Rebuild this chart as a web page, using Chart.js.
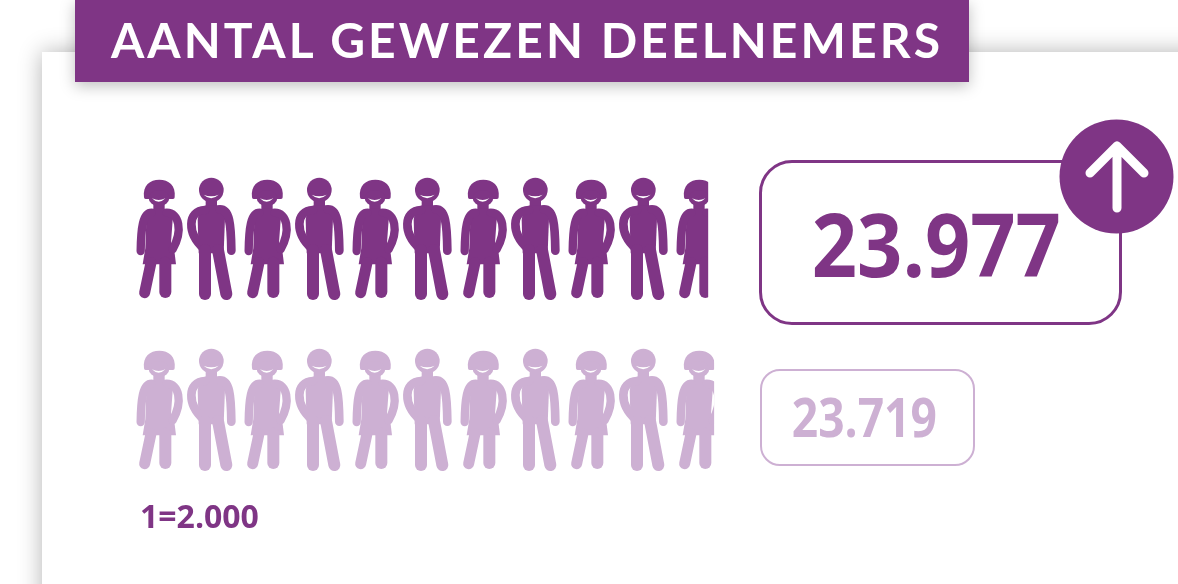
<!DOCTYPE html>
<html lang="nl"><head><meta charset="utf-8">
<script src="https://cdn.jsdelivr.net/npm/chart.js@4"></script>
<style>
html,body{margin:0;padding:0;width:1178px;height:584px;overflow:hidden;background:#fff}
#card{position:absolute;left:42px;top:52px;width:1300px;height:700px;background:#fff;box-shadow:0 0 22px rgba(0,0,0,.3)}
#title{position:absolute;left:75px;top:0;width:884px;padding-left:10px;height:82px;background:#7f3585;box-shadow:0 4px 14px rgba(0,0,0,.25);color:#fff;font:700 48px Lato,sans-serif;line-height:80px;text-align:center;white-space:nowrap;letter-spacing:3.1px}
canvas{position:absolute;left:0;top:0}
.box{position:absolute;box-sizing:border-box;background:#fff;text-align:center;font-family:"Open Sans",sans-serif;font-weight:700;white-space:nowrap}
.box span{display:inline-block;position:relative}
#b1{left:759px;top:160px;width:363px;height:165px;border:3.5px solid #7f3585;border-radius:33px;color:#7f3585;font-size:88px;line-height:160px}
#b1 span{transform:scaleX(.9);left:-4px}
#b2{left:760px;top:369px;width:215px;height:97px;border:2.5px solid #cdb0d3;border-radius:20px;color:#cdb0d3;font-size:53px;line-height:92px}
#b2 span{transform:scaleX(.87);left:-3px}
#note{position:absolute;left:140px;top:494px;color:#7f3585;font:700 32px "Open Sans",sans-serif;white-space:nowrap}
#arrow{position:absolute;left:1059px;top:119px}
</style></head><body>
<div id="card"></div>
<canvas id="c" width="1178" height="584"></canvas>
<div id="title"></div>
<div class="box" id="b1"><span></span></div><div class="box" id="b2"><span></span></div>
<div id="note"></div>
<svg id="arrow" width="115" height="115" viewBox="0 0 115 115"><circle cx="57.5" cy="57.5" r="57" fill="#7f3585"/><path d="M58 89V27M31 54L58 27L85 54" fill="none" stroke="#fff" stroke-width="9" stroke-linecap="round" stroke-linejoin="round"/></svg>
<script>
const titleText = 'AANTAL GEWEZEN DEELNEMERS';
const categories = ['Deze editie', 'Vorige editie'];
const participants = [23977, 23719];
const iconCounts = [10.59, 10.70];
const unitNote = '1=2.000';
const rowColors = ['#7f3585', '#cdb0d3'];
const smileColor = '#ffffff';

document.getElementById('title').textContent = titleText;
document.getElementById('note').textContent = unitNote;
const fmt = v => v.toLocaleString('nl-NL');
document.querySelector('#b1 span').textContent = fmt(participants[0]);
document.querySelector('#b2 span').textContent = fmt(participants[1]);

function limb(g, pts, w){
  g.lineWidth = w; g.lineCap = 'round'; g.lineJoin = 'round';
  g.beginPath(); g.moveTo(pts[0], pts[1]);
  if (pts.length === 4) g.lineTo(pts[2], pts[3]);
  else g.bezierCurveTo(pts[2], pts[3], pts[4], pts[5], pts[6], pts[7]);
  g.stroke();
}
function poly(g, p){ g.beginPath(); g.moveTo(p[0], p[1]); for (let i = 2; i < p.length; i += 2) g.lineTo(p[i], p[i+1]); g.closePath(); g.fill(); }
function smile(g, x0, x1, y, d){ g.save(); g.fillStyle = smileColor; g.beginPath(); g.moveTo(x0, y); g.quadraticCurveTo((x0+x1)/2, y+d+8, x1, y); g.quadraticCurveTo((x0+x1)/2, y+d-3, x0, y); g.closePath(); g.fill(); g.restore(); }

function woman(g){
  g.beginPath(); g.moveTo(42,82); g.bezierCurveTo(38,46,60,29,88,29); g.bezierCurveTo(116,29,138,46,134,82);
  g.quadraticCurveTo(134,87,129,87); g.lineTo(47,87); g.quadraticCurveTo(42,87,42,82); g.closePath(); g.fill();
  g.beginPath(); g.ellipse(87, 84, 31, 24, 0, 0, Math.PI*2); g.fill();
  smile(g, 66, 106, 85, 13);
  poly(g, [70,100, 104,100, 104,122, 70,122]);
  g.beginPath(); g.moveTo(49,150); g.quadraticCurveTo(54,116,72,116); g.lineTo(105,116); g.quadraticCurveTo(124,116,128,150);
  g.lineTo(123,218); g.lineTo(134,250); g.lineTo(138,283); g.lineTo(38,283); g.lineTo(46,235); g.closePath(); g.fill();
  limb(g, [65,128, 38,128, 33,175, 32,243], 25);
  limb(g, [110,128, 146,128, 160,180, 128,238], 25);
  limb(g, [63,278, 44,368], 33);
  limb(g, [106,278, 106,366], 36);
}
function man(g){
  g.beginPath(); g.arc(244, 60, 37, 0, Math.PI*2); g.fill();
  smile(g, 221, 266, 74, 13);
  poly(g, [227,90, 261,90, 261,115, 227,115]);
  g.beginPath(); g.moveTo(203,150); g.quadraticCurveTo(208,106,232,106); g.lineTo(262,106); g.quadraticCurveTo(282,106,285,145); g.lineTo(281,250); g.lineTo(206,250); g.closePath(); g.fill();
  limb(g, [225,120, 172,122, 170,190, 222,236], 26);
  limb(g, [270,118, 298,118, 303,160, 304,242], 26);
  limb(g, [225,240, 225,372], 36);
  limb(g, [264,240, 289,372], 36);
}
// one repeating tile of two figures: 108 x 130 px, drawn at 1/3 scale
function makeTile(color){
  const t = document.createElement('canvas'); t.width = 108; t.height = 130;
  const g = t.getContext('2d');
  g.fillStyle = color; g.strokeStyle = color;
  g.scale(1/3, 1/3); g.translate(-18, -12);
  woman(g); man(g);
  return t;
}
const ctx = document.getElementById('c').getContext('2d');
const patterns = rowColors.map((col, i) => {
  const p = ctx.createPattern(makeTile(col), 'repeat');
  p.setTransform(new DOMMatrix().translate(136, 174 + i*171));
  return p;
});
new Chart(ctx, {
  type: 'bar',
  data: { labels: categories, datasets: [{ data: iconCounts, backgroundColor: patterns, borderWidth: 0, barThickness: 130, borderSkipped: false }] },
  options: {
    indexAxis: 'y', responsive: false, animation: false, events: [],
    layout: { padding: { left: 136, right: 394, top: 153.5, bottom: 88.5 } },
    plugins: { legend: { display: false }, tooltip: { enabled: false } },
    scales: {
      x: { display: false, min: 0, max: 12 },
      y: { display: false }
    }
  }
});
</script>
</body></html>
